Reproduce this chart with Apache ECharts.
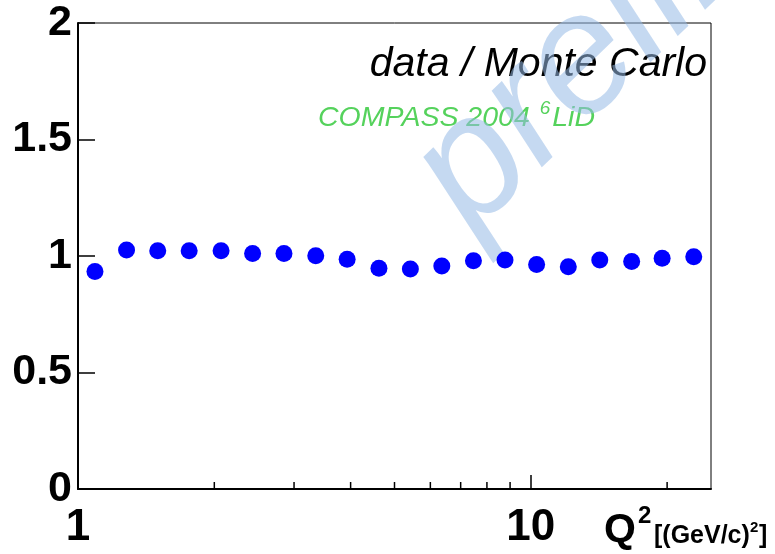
<!DOCTYPE html>
<html>
<head>
<meta charset="utf-8">
<script src="https://cdn.jsdelivr.net/npm/echarts@6/dist/echarts.min.js"></script>
<style>
html,body{margin:0;padding:0;background:#fff;}
#chart{width:775px;height:554px;}
</style>
</head>
<body>
<div id="chart"></div>
<script>
// Q^2 values [(GeV/c)^2]
const q2Values = [1.09, 1.28, 1.50, 1.76, 2.07, 2.43, 2.85, 3.35, 3.93, 4.62, 5.42, 6.36, 7.47, 8.77, 10.3, 12.1, 14.2, 16.7, 19.5, 22.9];
// data / Monte Carlo ratio
const ratioValues = [0.933, 1.026, 1.023, 1.023, 1.023, 1.011, 1.011, 1.001, 0.986, 0.947, 0.944, 0.957, 0.980, 0.983, 0.964, 0.954, 0.983, 0.976, 0.990, 0.997];
// axis tick labels
const xTickLabels = ['1', '10'];
const yTickLabels = ['0', '0.5', '1', '1.5', '2'];
// minor tick positions on the log x axis
const xMinorTicks = [2, 3, 4, 5, 6, 7, 8, 9, 20];

const FONT = '"Liberation Sans", Arial, Helvetica, sans-serif';
const chart = echarts.init(document.getElementById('chart'));

const WM_ANGLE = 44 * Math.PI / 180;

const option = {
  animation: false,
  backgroundColor: '#ffffff',
  grid: {
    left: 78, top: 23, right: 64, bottom: 65,
    show: true, borderColor: '#000', borderWidth: 1, backgroundColor: 'transparent'
  },
  xAxis: {
    type: 'log', logBase: 10, min: 1, max: 25,
    axisLine: { show: true, onZero: false, lineStyle: { color: '#000', width: 2 } },
    axisTick: { show: true, inside: true, length: 14, lineStyle: { color: '#000', width: 1.5 } },
    minorTick: { show: false },
    splitLine: { show: false },
    axisLabel: {
      show: true, margin: 17,
      fontFamily: FONT, fontWeight: 'bold', fontSize: 44, color: '#000',
      showMaxLabel: false,
      formatter: function (v) {
        const s = String(Math.round(v));
        return xTickLabels.indexOf(s) >= 0 ? s : '';
      }
    }
  },
  yAxis: {
    type: 'value', min: 0, max: 2, interval: 0.5,
    axisLine: { show: true, onZero: false, lineStyle: { color: '#000', width: 2 } },
    axisTick: { show: true, inside: true, length: 17, lineStyle: { color: '#000', width: 1.5 } },
    splitLine: { show: false },
    axisLabel: {
      margin: 6,
      fontFamily: FONT, fontWeight: 'bold', fontSize: 43, color: '#000',
      formatter: function (v) {
        const s = String(v);
        return yTickLabels.indexOf(s) >= 0 ? s : '';
      }
    }
  },
  graphic: [
    {
      type: 'text', z: 5, x: 707, y: 85,
      style: { text: 'data / Monte Carlo', font: 'italic 41px ' + FONT, fill: '#000', textAlign: 'right', textVerticalAlign: 'bottom' }
    },
    {
      type: 'text', z: 5, x: 318, y: 133,
      style: {
        text: '{a|COMPASS 2004 }{b|6}{a|LiD}',
        textVerticalAlign: 'bottom', textAlign: 'left',
        rich: {
          a: { fontFamily: FONT, fontStyle: 'italic', fontSize: 28.5, fill: '#55d25c', color: '#55d25c', verticalAlign: 'bottom', lineHeight: 34 },
          b: { fontFamily: FONT, fontStyle: 'italic', fontSize: 19, fill: '#55d25c', color: '#55d25c', verticalAlign: 'top', lineHeight: 34, padding: [0, 2, 0, 2] }
        }
      }
    },
    // axis title pieces
    { type: 'text', z: 5, x: 604, y: 551, style: { text: 'Q', font: 'bold 41px ' + FONT, fill: '#000', textVerticalAlign: 'bottom' } },
    { type: 'text', z: 5, x: 638, y: 528, style: { text: '2', font: 'bold 24px ' + FONT, fill: '#000', textVerticalAlign: 'bottom' } },
    { type: 'text', z: 5, x: 654, y: 549, style: { text: '[(GeV/c)', font: 'bold 25px ' + FONT, fill: '#000', textVerticalAlign: 'bottom' } },
    { type: 'text', z: 5, x: 750, y: 535, style: { text: '2', font: 'bold 15px ' + FONT, fill: '#000', textVerticalAlign: 'bottom' } },
    { type: 'text', z: 5, x: 759, y: 549, style: { text: ']', font: 'bold 25px ' + FONT, fill: '#000', textVerticalAlign: 'bottom' } },
    // watermark
    {
      type: 'text', z: 50, x: 439, y: 201, rotation: WM_ANGLE,
      style: { text: 'preliminary', font: 'italic 170px ' + FONT, fill: 'rgba(150,185,230,0.55)', textAlign: 'left', textVerticalAlign: 'middle' }
    }
  ],
  series: [
    {
      type: 'scatter', z: 60,
      symbol: 'circle', symbolSize: 17,
      itemStyle: { color: '#0000ff', opacity: 1 },
      data: q2Values.map((q, i) => [q, ratioValues[i]])
    },
    {
      type: 'custom', z: 40, silent: true,
      coordinateSystem: 'cartesian2d',
      data: xMinorTicks.map(v => [v, 0]),
      renderItem: function (params, api) {
        const p = api.coord([api.value(0), api.value(1)]);
        return { type: 'line', shape: { x1: p[0], y1: p[1], x2: p[0], y2: p[1] - 7 }, style: { stroke: '#000', lineWidth: 1.5 } };
      }
    }
  ]
};
chart.setOption(option);
</script>
</body>
</html>
